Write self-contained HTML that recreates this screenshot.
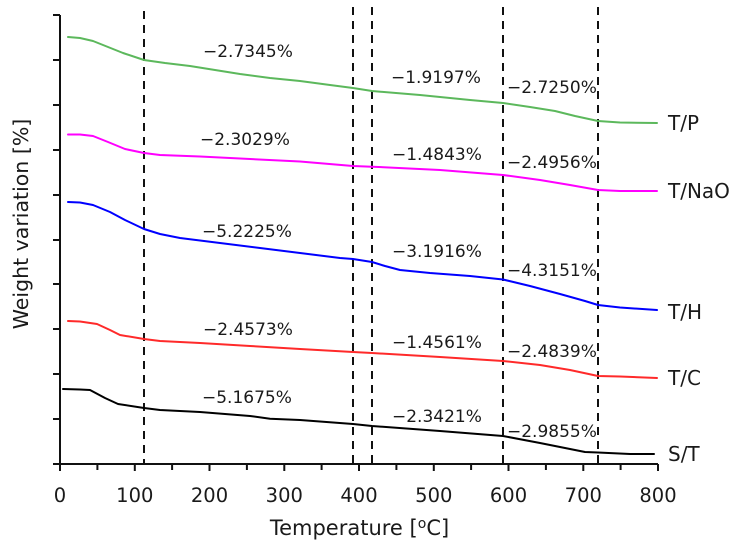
<!DOCTYPE html>
<html>
<head>
<meta charset="utf-8">
<style>
html,body{margin:0;padding:0;background:#fff;}
svg{display:block;}
text{font-family:"DejaVu Sans","Liberation Sans",sans-serif;fill:#1a1a1a;}
</style>
</head>
<body>
<svg width="740" height="546" viewBox="0 0 740 546" xmlns="http://www.w3.org/2000/svg">
  <!-- dashed vertical lines -->
  <g stroke="#111" stroke-width="2" stroke-dasharray="8,6" fill="none">
    <line x1="144" y1="11" x2="144" y2="464"/>
    <line x1="353" y1="7" x2="353" y2="464"/>
    <line x1="372" y1="7" x2="372" y2="464"/>
    <line x1="503" y1="7" x2="503" y2="464"/>
    <line x1="598" y1="7" x2="598" y2="464"/>
  </g>

  <!-- axes -->
  <g stroke="#111" stroke-width="2" fill="none">
    <line x1="60" y1="15" x2="60" y2="465"/>
    <line x1="53" y1="464" x2="658" y2="464"/>
    <!-- y ticks -->
    <line x1="53" y1="15" x2="60" y2="15"/>
    <line x1="53" y1="60" x2="60" y2="60"/>
    <line x1="53" y1="105" x2="60" y2="105"/>
    <line x1="53" y1="150" x2="60" y2="150"/>
    <line x1="53" y1="195" x2="60" y2="195"/>
    <line x1="53" y1="240" x2="60" y2="240"/>
    <line x1="53" y1="284" x2="60" y2="284"/>
    <line x1="53" y1="329" x2="60" y2="329"/>
    <line x1="53" y1="374" x2="60" y2="374"/>
    <line x1="53" y1="419" x2="60" y2="419"/>
    <!-- x ticks -->
    <line x1="60" y1="464" x2="60" y2="471"/>
    <line x1="97.4" y1="464" x2="97.4" y2="470"/>
    <line x1="134.8" y1="464" x2="134.8" y2="471"/>
    <line x1="172.1" y1="464" x2="172.1" y2="470"/>
    <line x1="209.5" y1="464" x2="209.5" y2="471"/>
    <line x1="246.9" y1="464" x2="246.9" y2="470"/>
    <line x1="284.3" y1="464" x2="284.3" y2="471"/>
    <line x1="321.6" y1="464" x2="321.6" y2="470"/>
    <line x1="359" y1="464" x2="359" y2="471"/>
    <line x1="396.4" y1="464" x2="396.4" y2="470"/>
    <line x1="433.8" y1="464" x2="433.8" y2="471"/>
    <line x1="471.1" y1="464" x2="471.1" y2="470"/>
    <line x1="508.5" y1="464" x2="508.5" y2="471"/>
    <line x1="545.9" y1="464" x2="545.9" y2="470"/>
    <line x1="583.3" y1="464" x2="583.3" y2="471"/>
    <line x1="620.6" y1="464" x2="620.6" y2="470"/>
    <line x1="658" y1="464" x2="658" y2="471"/>
  </g>

  <!-- x tick labels -->
  <g font-size="19.5" text-anchor="middle">
    <text x="60" y="502">0</text>
    <text x="134.8" y="502">100</text>
    <text x="209.5" y="502">200</text>
    <text x="284.3" y="502">300</text>
    <text x="359" y="502">400</text>
    <text x="433.8" y="502">500</text>
    <text x="508.5" y="502">600</text>
    <text x="583.3" y="502">700</text>
    <text x="658" y="502">800</text>
  </g>

  <!-- axis titles -->
  <text x="359.5" y="535" font-size="21" text-anchor="middle">Temperature [<tspan font-size="14" dy="-7">o</tspan><tspan dy="7">C]</tspan></text>
  <text transform="translate(28,224) rotate(-90)" font-size="20.5" text-anchor="middle">Weight variation [%]</text>

  <!-- curves -->
  <g fill="none" stroke-width="2" stroke-linejoin="round" stroke-linecap="round">
    <polyline stroke="#5cb85c" points="68,37 80,38 93,41 108,47 123,53 144,60 165,63 190,66 215,70 240,74 270,78 300,81 330,85 353,88 372,91 420,95 470,100 503,103 530,107 555,111 575,116 598,121 620,122.5 657,123"/>
    <polyline stroke="#ff00ff" points="68,134.5 80,134.5 93,136 108,142 125,149 144,153 160,155 200,156.5 250,159 300,161.5 353,166 372,166.7 440,170 503,175 540,180 570,185 598,190 620,191 657,191"/>
    <polyline stroke="#0000ff" points="68,202 80,202.5 93,205 110,212 125,220 144,229 160,234 180,238 220,243 260,248 300,253 340,258 353,259 372,262 385,266 400,270 430,273 470,276 503,279.5 530,286 560,294 585,301 598,305 620,307.5 657,310"/>
    <polyline stroke="#ff2a2a" points="68,321 80,321.5 97,324 110,330 120,335 144,339 160,341 200,343 250,346 300,349 353,352 372,353 440,357 503,361 540,365 570,370 598,376 620,376.5 657,378"/>
    <polyline stroke="#000" points="63,389 80,389.5 90,390 105,398 118,404 144,408 160,410 200,412 250,416 270,418.7 300,420 353,424 372,426 440,431 503,436 540,443 585,452 598,452.5 630,454 654,454"/>
  </g>

  <!-- percentage labels -->
  <g font-size="17">
    <text x="203" y="57">−2.7345%</text>
    <text x="391" y="83">−1.9197%</text>
    <text x="507" y="93">−2.7250%</text>

    <text x="200" y="145">−2.3029%</text>
    <text x="392" y="160">−1.4843%</text>
    <text x="507" y="168">−2.4956%</text>

    <text x="202" y="237">−5.2225%</text>
    <text x="392" y="257">−3.1916%</text>
    <text x="507" y="276">−4.3151%</text>

    <text x="203" y="335">−2.4573%</text>
    <text x="392" y="348">−1.4561%</text>
    <text x="507" y="357">−2.4839%</text>

    <text x="202" y="403">−5.1675%</text>
    <text x="392" y="422">−2.3421%</text>
    <text x="507" y="437">−2.9855%</text>
  </g>

  <!-- series labels -->
  <g font-size="20">
    <text x="668" y="130">T/P</text>
    <text x="668" y="198">T/NaO</text>
    <text x="668" y="319">T/H</text>
    <text x="668" y="385">T/C</text>
    <text x="668" y="461">S/T</text>
  </g>
</svg>
</body>
</html>
